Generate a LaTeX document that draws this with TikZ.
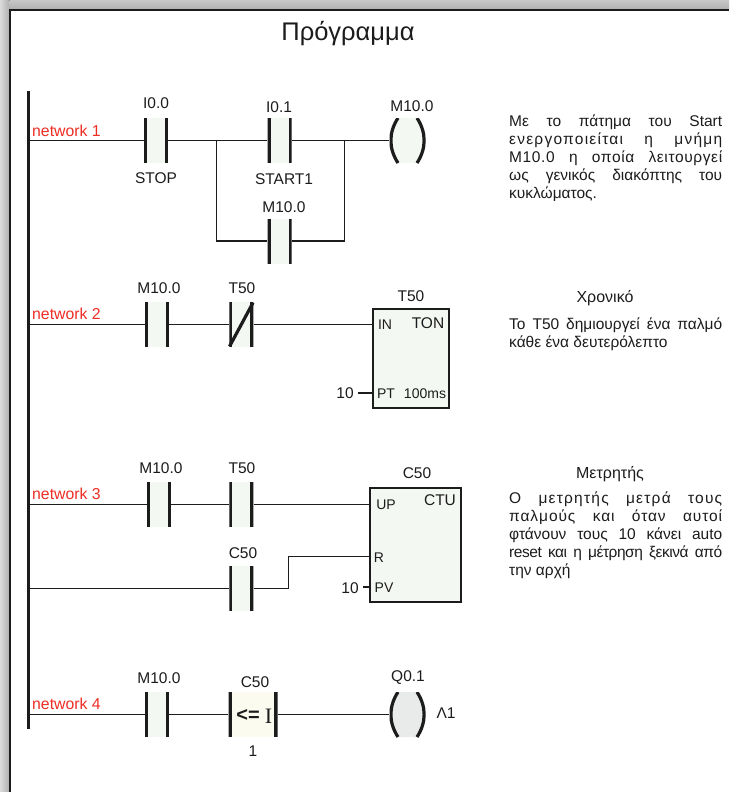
\documentclass[tikz,border=0pt]{standalone}
\usepackage{fontspec}
\setmainfont{Liberation Sans}
\definecolor{contactfill}{HTML}{F4F8F3}
\definecolor{comparefill}{HTML}{FCFBEF}
\definecolor{coilgray}{HTML}{E9EAEA}
\definecolor{inkdark}{HTML}{1C1C1C}
\definecolor{netred}{HTML}{EE2D24}
\newcommand{\fullline}[2][0]{\makebox[213pt][s]{\addfontfeature{LetterSpace=#1}#2}}
\tikzset{
  wire/.style={line width=1.3pt,draw=inkdark},
  contact/.style={inner sep=0pt,minimum width=24pt,minimum height=45pt,fill=contactfill,
    path picture={\draw[line width=3.2pt,draw=inkdark] (-10.6,-22.5) -- (-10.6,22.5) (10.6,-22.5) -- (10.6,22.5);}},
  coil/.style={inner sep=0pt,minimum width=36pt,minimum height=45pt,
    path picture={
      \fill[#1] (-9.5,-22.5) .. controls (-19,-8) and (-19,8) .. (-9.5,22.5) -- (9.5,22.5) .. controls (19,8) and (19,-8) .. (9.5,-22.5) -- cycle;
      \draw[line width=3.2pt,draw=inkdark] (-9.5,-22.5) .. controls (-19,-8) and (-19,8) .. (-9.5,22.5)
        (9.5,-22.5) .. controls (19,-8) and (19,8) .. (9.5,22.5);}},
  coil/.default=contactfill,
  block/.style={draw=inkdark,line width=2.8pt,fill=contactfill,inner sep=0pt},
  tag/.style={font=\fontsize{15.5}{18}\selectfont,text=inkdark,inner sep=0pt},
  pin/.style={font=\fontsize{14}{16}\selectfont,text=inkdark,inner sep=0pt},
  netname/.style={font=\fontsize{15.8}{18}\selectfont,text=netred,inner sep=0pt,anchor=west},
  remark/.style={font=\fontsize{15.5}{18}\selectfont,text=inkdark,inner sep=0pt,anchor=north west,align=left},
  remarkhead/.style={font=\fontsize{16}{18}\selectfont,text=inkdark,inner sep=0pt},
}
\begin{document}
\begin{tikzpicture}[x=1pt,y=-1pt]
\useasboundingbox (0,0) rectangle (729,792);
\fill[left color=black!14,right color=black!32] (0,0) rectangle (9.5,792);
\fill[top color=black!22,bottom color=black!32] (9.5,0) rectangle (729,10);
\fill[white] (9.5,10) rectangle (729,792);
\draw[line width=2pt,draw=inkdark] (729,10) -- (9.5,10) -- (9.5,792);

\node[font=\fontsize{25.5}{30}\selectfont,text=inkdark,inner sep=0pt] (title) at (348,34) {Πρόγραμμα};

% power rail
\coordinate (railtop) at (28,91);
\coordinate (railbot) at (28,729);
\draw[line width=3pt,draw=inkdark] (railtop) -- (railbot);
\coordinate (rail1) at (28,140.5);
\coordinate (rail2) at (28,324.5);
\coordinate (rail3) at (28,504.5);
\coordinate (rail3b) at (28,588.5);
\coordinate (rail4) at (28,714.5);

\node[netname] (net1) at (32,131) {network 1};
\node[netname] (net2) at (32,314) {network 2};
\node[netname] (net3) at (32,494) {network 3};
\node[netname] (net4) at (32,704) {network 4};

% network 1
\node[contact] (i00) at (155.8,140.5) {};
\node[contact] (i01) at (279.5,140.5) {};
\node[contact] (m100a) at (279.5,241) {};
\node[coil] (m100c) at (407.5,140.5) {};
\coordinate (brl) at (216.5,140.5);
\coordinate (brr) at (344.5,140.5);
\coordinate (brlb) at (216.5,241);
\coordinate (brrb) at (344.5,241);
\node[tag] at (156,103) (t1) {I0.0};
\node[tag] at (156,178) (t2) {STOP};
\node[tag] at (279,107) (t3) {I0.1};
\node[tag] at (284,179) (t4) {START1};
\node[tag] at (284,207) (t5) {M10.0};
\node[tag] at (412,106) (t6) {M10.0};

\path[wire] (rail1) edge (i00) (i00) edge (i01) (i01) edge (m100c);
\draw[wire] (brl) -- (brlb) -- (m100a) (m100a) -- (brrb) -- (brr);

% network 2
\node[contact] (m100b) at (157,324.5) {};
\node[contact] (t50a) at (241.3,324.5) {};
\draw[line width=3.2pt,draw=inkdark,shorten <=1pt,shorten >=1pt] (t50a.south west) -- (t50a.north east);
\node[block,minimum width=76pt,minimum height=99pt] (ton) at (411,358.5) {};
\node[tag] at (159,288) (t7) {M10.0};
\node[tag] at (242,288) (t8) {T50};
\node[tag] at (411,296) (t9) {T50};
\node[pin] at (385,324.5) (p1) {IN};
\node[tag] at (428,323.5) (p2) {TON};
\node[pin] at (386,393.5) (p3) {PT};
\node[pin] at (425,393.5) (p4) {100ms};
\node[tag] at (345,393.5) (p5) {10};
\coordinate (ten1) at (358,393);
\coordinate (tonpt) at (373,393);
\path[wire] (rail2) edge (m100b) (m100b) edge (t50a) (t50a) edge (ton.west |- t50a);
\draw[line width=2.6pt,draw=inkdark] (ten1) -- (tonpt);

% network 3
\node[contact] (m100d) at (158.8,504.5) {};
\node[contact] (t50b) at (241.3,504.5) {};
\node[contact] (c50a) at (241.3,588.5) {};
\node[block,minimum width=91pt,minimum height=114pt] (ctu) at (415.5,545) {};
\coordinate (jog1) at (288.5,588.5);
\coordinate (jog2) at (288.5,556.5);
\node[tag] at (161,468) (t10) {M10.0};
\node[tag] at (242,468) (t11) {T50};
\node[tag] at (417,473) (t12) {C50};
\node[tag] at (243,553) (t13) {C50};
\node[pin] at (386,504.5) (p6) {UP};
\node[tag] at (440,500.5) (p7) {CTU};
\node[pin] at (379,557.5) (p8) {R};
\node[pin] at (384,588) (p9) {PV};
\node[tag] at (350,588.5) (p10) {10};
\coordinate (ten2) at (363,587);
\coordinate (ctupv) at (370,587);
\path[wire] (rail3) edge (m100d) (m100d) edge (t50b) (t50b) edge (ctu.west |- t50b) (rail3b) edge (c50a);
\draw[wire] (c50a) -- (jog1) -- (jog2) -- (ctu.west |- jog2);
\draw[line width=1.6pt,draw=inkdark] (ten2) -- (ctupv);

% network 4
\node[contact] (m100e) at (157,714.5) {};
\node[contact,minimum width=49pt,fill=comparefill,path picture={\draw[line width=3.2pt,draw=inkdark] (-23,-22.5) -- (-23,22.5) (23,-22.5) -- (23,22.5);}] (cmp) at (253,714.5) {};
\node[coil=coilgray] (q01) at (407.5,714.5) {};
\node[font=\fontsize{20}{22}\selectfont\bfseries,text=inkdark,inner sep=0pt] (cmpop) at (248,715) {<=};
\node[font=\fontsize{22}{24}\selectfont,text=inkdark,inner sep=0pt] (cmpi) at (268.5,716) {\fontspec{Liberation Serif}I};
\node[tag] at (159,678) (t14) {M10.0};
\node[tag] at (255,682) (t15) {C50};
\node[tag] at (253,751) (t16) {1};
\node[tag] at (408,678) (t17) {Q0.1};
\node[tag] at (446,713) (t18) {Λ1};
\path[wire] (rail4) edge (m100e) (m100e) edge (cmp) (cmp) edge (q01);

% comments on the right
\node[remark] (rem1) at (509,114.5) {\fullline{Με το πάτημα του Start}\\\fullline[8]{ενεργοποιείται η μνήμη}\\\fullline[4]{Μ10.0 η οποία λειτουργεί}\\\fullline{ως γενικός διακόπτης του}\\κυκλώματος.};
\node[remarkhead] (rem2h) at (605,298) {Χρονικό};
\node[remark] (rem2) at (509,317.5) {\fullline{Το Τ50 δημιουργεί ένα παλμό}\\κάθε ένα δευτερόλεπτο};
\node[remarkhead] (rem3h) at (610,474) {Μετρητής};
\node[remark] (rem3) at (509,491.5) {\fullline[8]{Ο μετρητής μετρά τους}\\\fullline[6]{παλμούς και όταν αυτοί}\\\fullline{φτάνουν τους 10 κάνει auto}\\\fullline[-3]{reset και η μέτρηση ξεκινά από}\\την αρχή};
\end{tikzpicture}
\end{document}
